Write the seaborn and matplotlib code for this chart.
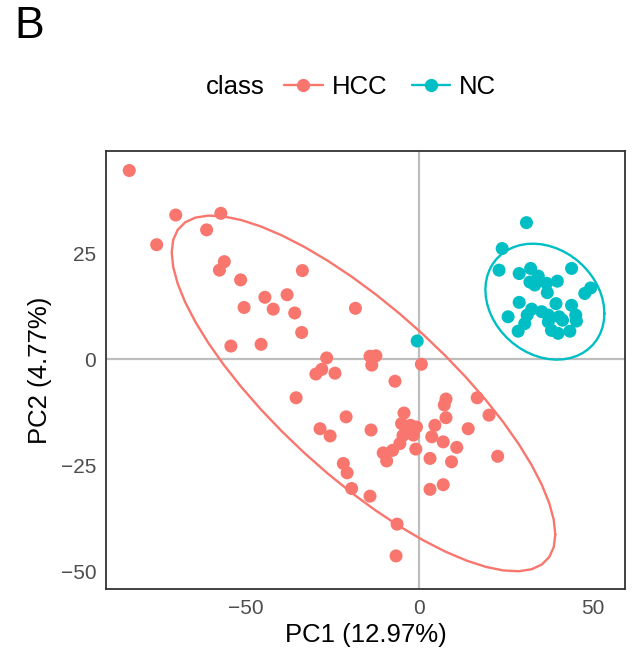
import numpy as np
import pandas as pd
import matplotlib
matplotlib.use("Agg")
import matplotlib.pyplot as plt
import seaborn as sns
from matplotlib.lines import Line2D

# PCA scores per sample group
classes = ["HCC", "NC"]
palette = {"HCC": "#F8766D", "NC": "#00BFC4"}

hcc_pc1 = [-83.5, -70.1, -57.1, -61.2, -75.6, -56.1, -57.5, -51.4, -44.4, -50.4,
           -42.0, -54.2, -45.5, -33.6, -38.0, -35.8, -18.3, -33.8, -26.6, -28.0,
           -29.7, -24.2, -14.1, -12.4, -13.6, 0.7, -6.9, -35.4, 7.8, 7.3,
           7.8, -21.0, -4.3, -5.0, 4.6, -28.5, -25.6, -13.8, 3.7, 7.0,
           16.8, 20.2, 14.2, -5.5, -7.6, -10.3, -9.3, -0.9, 10.9, 3.2,
           9.4, -21.8, -20.7, -19.4, -14.1, 3.2, 7.0, -6.3, -6.6, 22.7,
           -2.4, -0.7, -3.5, -1.6, -4.6]
hcc_pc2 = [44.5, 34.0, 34.4, 30.5, 27.0, 23.0, 21.0, 18.7, 14.6, 12.2,
           11.8, 3.1, 3.5, 20.9, 15.2, 10.9, 12.0, 6.3, 0.3, -2.4,
           -3.5, -3.3, 0.7, 0.8, -1.4, -1.2, -5.2, -9.1, -9.4, -10.8,
           -13.8, -13.6, -12.7, -15.2, -15.6, -16.4, -18.1, -16.7, -18.3, -19.5,
           -9.1, -13.2, -16.4, -19.9, -21.5, -22.1, -24.0, -21.2, -20.8, -23.4,
           -24.2, -24.6, -26.8, -30.5, -32.3, -30.7, -29.6, -38.9, -46.4, -22.9,
           -15.6, -16.0, -16.7, -17.9, -18.0]

nc_pc1 = [31.0, 24.0, 23.1, 28.9, 32.2, 34.4, 44.0, 32.0, 33.4, 36.8,
          39.9, 37.0, 49.5, 47.8, 28.9, 39.5, 44.0, 32.5, 25.7, 31.2,
          37.3, 40.4, 45.2, 30.5, 37.3, 41.4, 45.4, 28.6, 38.2, 40.1,
          43.5, 35.4, -0.5]
nc_pc2 = [32.2, 26.1, 21.0, 20.2, 21.4, 19.6, 21.4, 18.2, 17.5, 17.9,
          18.4, 15.7, 16.8, 15.5, 13.4, 13.1, 12.7, 11.8, 10.0, 10.4,
          10.4, 10.0, 10.4, 8.4, 8.8, 9.2, 9.0, 6.6, 6.8, 6.1,
          6.6, 11.2, 4.3]

df = pd.DataFrame({
    "PC1": hcc_pc1 + nc_pc1,
    "PC2": hcc_pc2 + nc_pc2,
    "class": ["HCC"] * len(hcc_pc1) + ["NC"] * len(nc_pc1),
})


def cov_trob(X, nu=5, tol=1e-4, maxit=100):
    """Robust multivariate-t location/scatter estimate (as in MASS::cov.trob)."""
    n, p = X.shape
    w = np.ones(n)
    loc = X.mean(axis=0)
    for _ in range(maxit):
        w0 = w.copy()
        Xc = X - loc
        S = (Xc * (w / w.sum())[:, None]).T @ Xc
        Q = np.einsum("ij,jk,ik->i", Xc, np.linalg.inv(S), Xc)
        w = (nu + p) / (nu + Q)
        loc = (w[:, None] * X).sum(axis=0) / w.sum()
        if np.all(np.abs(w - w0) < tol):
            break
    Xc = X - loc
    cov = (Xc * w[:, None]).T @ Xc / n
    return loc, cov


def t_ellipse(x, y, level=0.95, segments=51):
    X = np.column_stack([x, y])
    n = len(X)
    center, shape = cov_trob(X)
    dfn, dfd = 2, n - 1
    # F quantile with 2 numerator degrees of freedom has a closed form
    qf = dfd / 2.0 * ((1 - level) ** (-2.0 / dfd) - 1)
    radius = np.sqrt(dfn * qf)
    ang = np.linspace(0, 2 * np.pi, segments)
    circle = np.column_stack([np.cos(ang), np.sin(ang)])
    chol = np.linalg.cholesky(shape).T
    pts = center + radius * circle @ chol
    return pts[:, 0], pts[:, 1]


sns.set_theme(style="white")
plt.rcParams["font.family"] = ["Liberation Sans", "DejaVu Sans"]
plt.rcParams["text.color"] = "black"
plt.rcParams["axes.labelcolor"] = "black"

fig = plt.figure(figsize=(6.32, 6.62), dpi=100)
ax = fig.add_axes([106 / 632, 1 - 589 / 662, (625 - 106) / 632, (589 - 151) / 662])

ax.axhline(0, color="#BEBEBE", lw=1.6, zorder=0)
ax.axvline(0, color="#BEBEBE", lw=1.6, zorder=0)

sns.scatterplot(data=df, x="PC1", y="PC2", hue="class", hue_order=classes,
                palette=palette, s=88, edgecolor="none", linewidth=0,
                legend=False, ax=ax, zorder=3)

for c in classes:
    sub = df[df["class"] == c]
    ex, ey = t_ellipse(sub["PC1"].values, sub["PC2"].values)
    ax.plot(ex, ey, color=palette[c], lw=1.7, zorder=2)

ax.set_xlim(-90.2, 59.4)
ax.set_ylim(-54.2, 49.1)
ax.set_xticks([-50, 0, 50])
ax.set_yticks([-50, -25, 0, 25])
ax.tick_params(axis="both", direction="out", length=4, width=1.1,
               color="#333333", labelsize=15, labelcolor="#4D4D4D", pad=3)
for sp in ax.spines.values():
    sp.set_color("#333333")
    sp.set_linewidth(1.3)
ax.set_xlabel("PC1 (12.97%)", fontsize=18.5, color="black", labelpad=4)
ax.set_ylabel("PC2 (4.77%)", fontsize=18.5, color="black", labelpad=6)

# panel letter
fig.text(14 / 632, 1 - 27 / 662, "B", fontsize=32, va="center", ha="left",
         color="black")

# legend across the top
ly = 1 - 87 / 662
fig.text(206 / 632, ly, "class", fontsize=18.5, va="center", ha="left",
         color="black")
handles = [Line2D([0], [0], color=palette[c], lw=1.7, marker="o",
                  markersize=9.5, markeredgewidth=0) for c in classes]
leg = fig.legend(handles, classes, loc="center left",
                 bbox_to_anchor=(284 / 632, ly), ncol=2, frameon=False,
                 fontsize=18.5, handlelength=1.5, handletextpad=0.35,
                 columnspacing=0.95, borderpad=0, borderaxespad=0)
for t in leg.get_texts():
    t.set_color("black")

fig.savefig("out.png", dpi=100)
